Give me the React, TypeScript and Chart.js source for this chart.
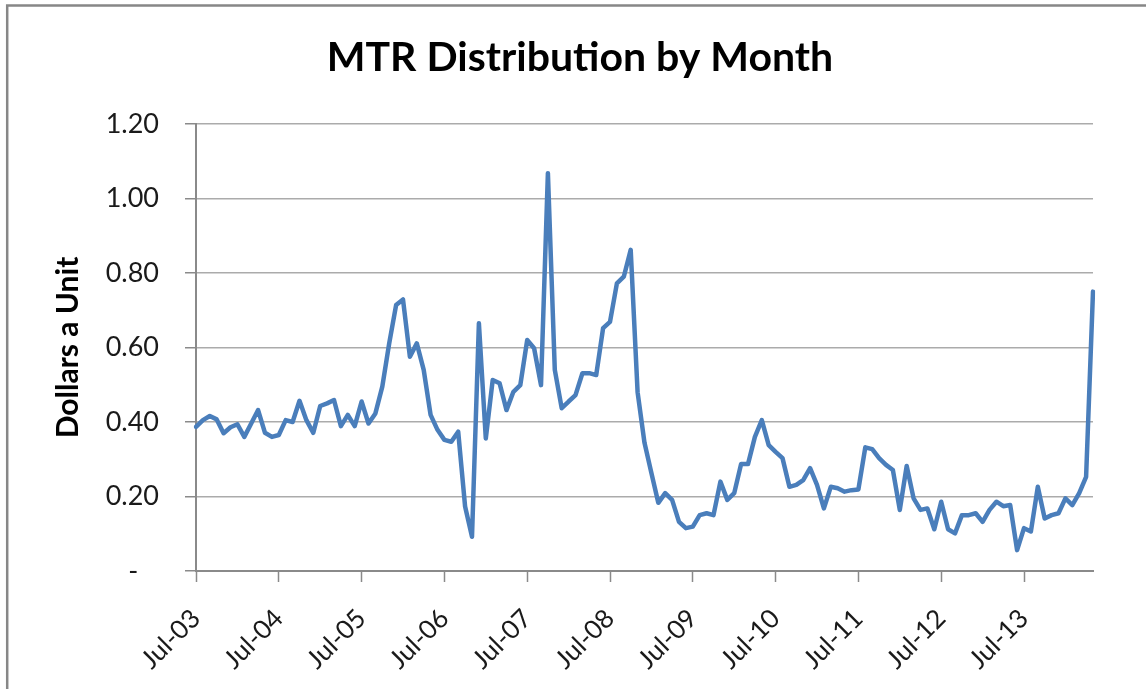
import { useEffect, useRef } from 'react';
import { Chart, registerables } from 'chart.js';

Chart.register(...registerables);

const TITLE = 'MTR Distribution by Month';
const Y_TITLE = 'Dollars a Unit';
const MONTH_NAMES = ['Jan', 'Feb', 'Mar', 'Apr', 'May', 'Jun', 'Jul', 'Aug', 'Sep', 'Oct', 'Nov', 'Dec'];
const TICK_LABELS = ['Jul-03', 'Jul-04', 'Jul-05', 'Jul-06', 'Jul-07', 'Jul-08', 'Jul-09', 'Jul-10', 'Jul-11', 'Jul-12', 'Jul-13'];
const Y_TICKS = [0, 0.2, 0.4, 0.6, 0.8, 1.0, 1.2];

// monthly distribution, Jul-03 .. May-14
const VALUES = [
  0.387, 0.405, 0.416, 0.407, 0.370, 0.386, 0.394, 0.360, 0.396, 0.432, 0.371, 0.360,
  0.365, 0.405, 0.400, 0.457, 0.405, 0.371, 0.443, 0.450, 0.459, 0.389, 0.419, 0.389,
  0.455, 0.396, 0.423, 0.495, 0.611, 0.714, 0.729, 0.575, 0.611, 0.540, 0.419, 0.379,
  0.352, 0.347, 0.374, 0.173, 0.092, 0.665, 0.356, 0.513, 0.504, 0.432, 0.481, 0.499,
  0.620, 0.598, 0.499, 1.068, 0.540, 0.437, 0.455, 0.472, 0.531, 0.531, 0.526, 0.652,
  0.669, 0.772, 0.790, 0.862, 0.480, 0.344, 0.263, 0.183, 0.209, 0.191, 0.132, 0.115,
  0.119, 0.150, 0.155, 0.150, 0.240, 0.191, 0.209, 0.287, 0.287, 0.360, 0.405, 0.338,
  0.320, 0.303, 0.226, 0.231, 0.244, 0.276, 0.231, 0.168, 0.226, 0.222, 0.213, 0.217,
  0.219, 0.332, 0.327, 0.303, 0.285, 0.271, 0.164, 0.282, 0.195, 0.164, 0.168, 0.112,
  0.186, 0.112, 0.101, 0.150, 0.150, 0.155, 0.132, 0.164, 0.186, 0.174, 0.177, 0.056,
  0.115, 0.106, 0.226, 0.141, 0.150, 0.155, 0.195, 0.177, 0.209, 0.253, 0.750,
];

const CATEGORIES: string[] = VALUES.map((_, i) => {
  const m = (6 + i) % 12;
  const y = 3 + Math.floor((6 + i) / 12);
  return `${MONTH_NAMES[m]}-${String(y).padStart(2, '0')}`;
});

const FONT = 'Lato, "Open Sans", "DejaVu Sans", sans-serif';

const framePlugin = {
  id: 'frame',
  afterDraw(chart: any) {
    const ctx = chart.ctx;
    ctx.save();
    ctx.strokeStyle = '#878787';
    ctx.lineWidth = 2.5;
    ctx.beginPath();
    ctx.moveTo(7.2, 689);
    ctx.lineTo(7.2, 5.5);
    ctx.lineTo(1146, 5.5);
    ctx.stroke();
    ctx.restore();
  },
};

export default function App() {
  const ref = useRef<HTMLCanvasElement | null>(null);

  useEffect(() => {
    if (!ref.current) return;
    const chart = new Chart(ref.current, {
      type: 'line',
      data: {
        labels: CATEGORIES,
        datasets: [
          {
            data: VALUES,
            borderColor: '#4a7ebb',
            borderWidth: 4.5,
            pointRadius: 0,
            tension: 0,
            borderCapStyle: 'round',
            borderJoinStyle: 'round',
          },
        ],
      },
      options: {
        animation: false,
        responsive: true,
        maintainAspectRatio: false,
        layout: { padding: { left: 67, right: 53, top: 0, bottom: 0 } },
        plugins: {
          legend: { display: false },
          tooltip: { enabled: false },
          title: {
            display: true,
            text: TITLE,
            color: '#000',
            font: { family: FONT, size: 41, weight: 'bold', lineHeight: 1.2 },
            padding: { top: 33, bottom: 41.8 },
          },
        },
        scales: {
          x: {
            type: 'category',
            offset: false,
            border: { display: true, color: '#8a8a8a', width: 2 },
            grid: {
              drawOnChartArea: false,
              drawTicks: true,
              tickLength: 11,
              tickWidth: 1.5,
              tickColor: (c: any) => (TICK_LABELS.includes(CATEGORIES[c.index]) ? '#8a8a8a' : 'rgba(0,0,0,0)'),
            },
            ticks: {
              autoSkip: false,
              minRotation: 45,
              maxRotation: 45,
              padding: 21,
              color: '#1a1a1a',
              font: { family: FONT, size: 26 },
              callback: (_v: any, i: number) => (TICK_LABELS.includes(CATEGORIES[i]) ? CATEGORIES[i] : ''),
            },
            afterFit: (s: any) => {
              s.height = 118;
            },
          },
          y: {
            min: 0,
            max: 1.2,
            border: { display: true, color: '#8a8a8a', width: 2 },
            grid: {
              color: '#ababab',
              lineWidth: 1.5,
              drawTicks: true,
              tickLength: 11,
              tickColor: '#8a8a8a',
            },
            ticks: {
              stepSize: 0.2,
              padding: 26,
              color: '#1a1a1a',
              font: { family: FONT, size: 27 },
              callback: (v: any) => {
                const n = Number(v);
                const t = Y_TICKS.find((k) => Math.abs(k - n) < 1e-6);
                if (t === undefined) return '';
                return t === 0 ? '-   ' : t.toFixed(2);
              },
            },
            title: {
              display: true,
              text: Y_TITLE,
              color: '#000',
              font: { family: FONT, size: 30, weight: 'bold', lineHeight: 1.2 },
              padding: { top: -17, bottom: 0 },
            },
            afterFit: (s: any) => {
              s.width = 129;
            },
          },
        },
      },
      plugins: [framePlugin],
    } as any);
    return () => chart.destroy();
  }, []);

  return (
    <div style={{ position: 'absolute', left: 0, top: 0, width: 1146, height: 689, background: '#fff' }}>
      <canvas ref={ref} />
    </div>
  );
}
